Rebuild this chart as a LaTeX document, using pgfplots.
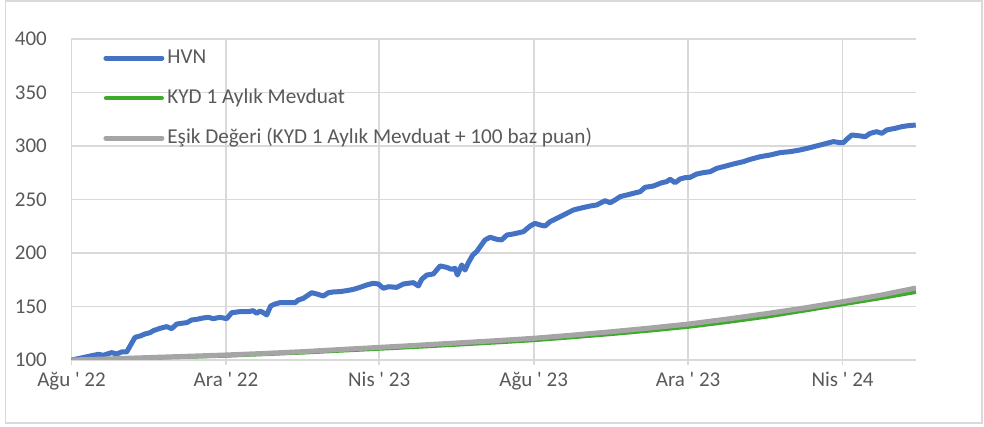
\documentclass[border=0pt]{standalone}
\usepackage{fontspec}
\setmainfont{Carlito}
\usepackage{pgfplots}
\pgfplotsset{compat=1.18}

\definecolor{hvnblue}{HTML}{4472C4}
\definecolor{kydgreen}{HTML}{3DAA2A}
\definecolor{esikgray}{HTML}{A5A5A5}
\definecolor{gridgray}{HTML}{D9D9D9}
\definecolor{labelgray}{HTML}{595959}

\newcommand{\ap}{\textquotesingle}

\begin{document}
\begin{tikzpicture}
\begin{axis}[
    scale only axis,
    width=422.25pt, height=160.5pt,
    at={(0,0)}, anchor=south west,
    xmin=0, xmax=667,
    ymin=100, ymax=400,
    ytick={100,150,...,400},
    xtick={0,122,243,365,487,609},
    xticklabels={Ağu \ap{} 22, Ara \ap{} 22, Nis \ap{} 23, Ağu \ap{} 23, Ara \ap{} 23, Nis \ap{} 24},
    axis line style={draw=none},
    grid=major,
    major grid style={gridgray, line width=0.9pt},
    xtick pos=bottom,
    tick align=outside,
    major tick length=2.5pt,
    xtick style={gridgray, line width=0.9pt},
    ytick style={draw=none},
    ticklabel style={font=\fontsize{10.5}{12}\selectfont, text=labelgray},
    yticklabel style={xshift=-6.3pt},
    /pgf/number format/assume math mode=true,
    legend style={
        draw=none, fill=none,
        at={(0,1)}, anchor=north west,
        xshift=15.75pt, yshift=-4.8pt,
        font=\fontsize{10.6}{12}\selectfont,
        text=labelgray,
        row sep=11pt, column sep=1.5pt,
        inner sep=0pt,
        nodes={inner sep=0pt, text height=7pt, text depth=2pt},
    },
    legend cell align=left,
    legend image code/.code={\draw[#1, line cap=round] (0pt,0pt) -- (28pt,0pt);},
    line join=round,
]
\addplot[hvnblue, line width=2.5pt] table {
0 100.0
6.7 101.6
14.6 103.7
21.2 105.3
25.1 104.4
31.7 106.9
35.7 105.6
39.6 107.5
43.6 107.5
46.7 114.0
50.2 121.2
54.1 122.4
58.0 124.3
62.0 125.5
64.6 127.4
69.9 129.6
75.2 131.2
79.1 129.3
83.1 133.6
87.0 134.3
91.0 134.9
94.9 137.4
98.9 138.0
104.1 139.3
108.1 139.9
112.0 138.6
117.3 139.9
122.6 138.6
126.5 144.2
133.1 145.2
139.7 145.2
143.6 146.1
146.3 143.6
148.9 145.8
151.5 144.2
154.2 142.1
157.3 150.5
160.7 152.3
164.7 153.6
172.6 153.6
176.6 153.6
179.2 156.1
183.1 157.6
187.1 160.8
189.7 162.9
193.7 161.7
198.9 159.8
202.9 162.9
206.8 163.6
212.1 163.9
217.3 164.8
222.6 166.0
227.9 167.9
233.1 170.1
238.4 171.7
242.4 171.0
246.3 167.0
250.3 168.5
256.8 167.9
262.1 171.0
266.0 171.7
270.0 172.3
274.0 169.2
276.6 175.4
280.6 179.4
285.8 180.4
291.1 187.9
296.3 186.6
300.3 184.7
302.9 185.7
304.8 179.4
308.2 188.8
310.8 184.1
313.5 191.0
316.9 198.1
320.0 201.3
326.6 212.2
330.6 214.7
335.9 212.8
339.8 212.2
343.8 216.8
349.0 217.8
356.9 219.9
362.2 225.2
366.1 227.7
370.1 226.2
374.0 225.2
378.0 229.3
383.3 232.4
391.2 237.1
396.4 240.2
401.7 241.8
409.6 243.9
414.9 244.9
421.4 248.9
425.4 247.0
429.3 249.5
433.3 252.7
438.6 254.2
443.8 255.8
449.1 257.3
453.0 261.4
459.6 262.6
466.2 265.7
470.1 266.7
472.8 268.9
476.7 265.7
480.7 269.2
484.6 270.4
488.6 270.7
493.8 273.8
499.1 275.1
504.4 276.0
509.6 279.1
514.9 280.7
522.8 283.2
530.7 285.4
536.0 287.5
543.9 290.0
551.8 291.6
559.7 293.8
567.6 294.7
575.5 296.3
583.4 298.5
591.3 300.9
596.5 302.5
601.8 304.1
607.1 303.1
609.7 303.1
612.3 306.2
616.3 310.3
622.9 309.4
626.8 308.7
630.8 311.8
636.0 313.4
640.0 311.8
643.9 315.0
650.5 316.5
655.8 318.1
661.0 319.0
666.8 319.6
};
\addlegendentry{HVN}
\addplot[kydgreen, line width=2pt] table {
0 100.0
31 101.0
61 102.0
92 103.0
122 104.0
153 105.5
184 107.0
212 108.7
243 110.5
273 112.3
304 114.3
334 116.3
365 118.5
396 121.3
426 124.2
457 127.5
487 131.0
518 135.5
549 140.5
578 146.0
609 152.0
639 157.8
667 163.6
};
\addlegendentry{KYD 1 Aylık Mevduat}
\addplot[esikgray, line width=2.5pt] table {
0 100.0
31 101.1
61 102.3
92 103.5
122 104.7
153 106.2
184 107.9
212 109.8
243 111.8
273 113.8
304 115.9
334 118.0
365 120.3
396 123.3
426 126.4
457 129.9
487 133.6
518 138.3
549 143.4
578 148.5
609 154.5
639 160.6
667 167.3
};
\addlegendentry{Eşik Değeri (KYD 1 Aylık Mevduat + 100 baz puan)}
\end{axis}
\draw[gridgray, line width=0.75pt] (-32.9pt,-31.5pt) rectangle (455.25pt,179.5pt);
\pgfresetboundingbox
\path (-35.75pt,-33.5pt) rectangle (456.25pt,180pt);
\end{tikzpicture}
\end{document}
